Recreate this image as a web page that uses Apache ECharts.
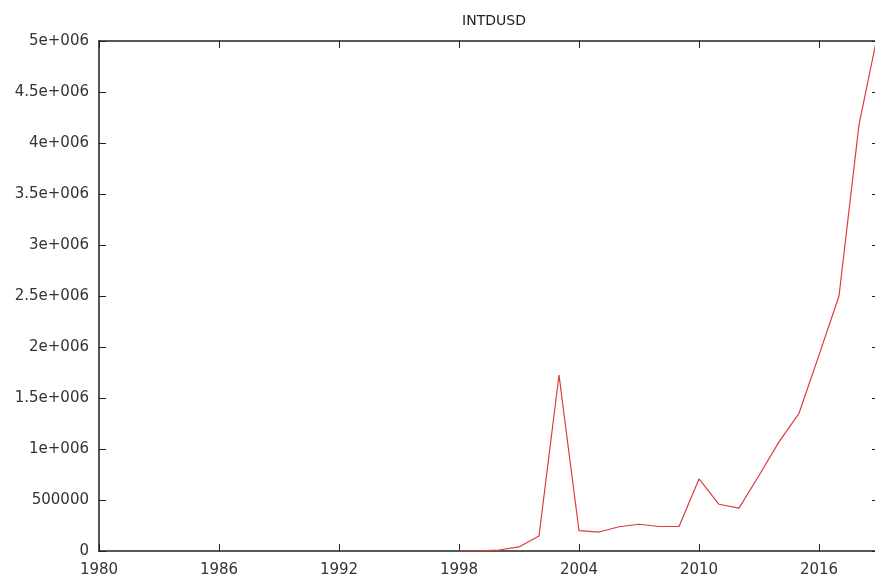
<!DOCTYPE html>
<html>
<head>
<meta charset="utf-8">
<script src="https://cdn.jsdelivr.net/npm/echarts@6/dist/echarts.min.js"></script>
<style>html,body{margin:0;padding:0;background:#fff}#c{width:875px;height:575px}</style>
</head>
<body>
<div id="c"></div>
<script>
var titleText = 'INTDUSD';
var years = [1998,1999,2000,2001,2002,2003,2004,2005,2006,2007,2008,2009,2010,2011,2012,2013,2014,2015,2016,2017,2018,2019];
var values = [0,2000,10000,40000,147000,1725000,199000,186000,238000,262000,240000,240000,706000,458000,420000,740000,1070000,1350000,1920000,2500000,4180000,5130000];
var yTickValues = [0,500000,1000000,1500000,2000000,2500000,3000000,3500000,4000000,4500000,5000000];
var yTickLabels = ['0','500000','1e+006','1.5e+006','2e+006','2.5e+006','3e+006','3.5e+006','4e+006','4.5e+006','5e+006'];
var xMin = 1980, xMax = 2019, xStep = 6;

var font = 'DejaVu Sans';
var chart = echarts.init(document.getElementById('c'), null, {renderer: 'canvas'});
var tick = {show: true, inside: true, length: 7, lineStyle: {color: '#222', width: 1}};
chart.setOption({
  animation: false,
  title: {text: titleText, left: 489, textAlign: 'center', top: 9,
    textStyle: {fontFamily: font, fontSize: 14, fontWeight: 'normal', color: '#222'}},
  grid: {left: 99, width: 780, top: 41, height: 510, containLabel: false, outerBoundsMode: 'none'},
  xAxis: [
    {type: 'value', position: 'bottom', min: xMin, max: xMax, interval: xStep,
      axisLine: {onZero: false, lineStyle: {color: '#222', width: 1.5}}, axisTick: tick,
      splitLine: {show: false},
      axisLabel: {showMaxLabel: false, margin: 12, color: '#333', fontFamily: font, fontSize: 15,
        formatter: function (v) { return String(v); }}},
    {type: 'value', position: 'top', min: xMin, max: xMax, interval: xStep,
      axisLine: {onZero: false, lineStyle: {color: '#222', width: 1.5}}, axisTick: tick,
      splitLine: {show: false}, axisLabel: {show: false}}
  ],
  yAxis: [
    {type: 'value', position: 'left', min: 0, max: 5000000, interval: 500000,
      axisLine: {show: true, onZero: false, lineStyle: {color: '#555', width: 2}}, axisTick: tick,
      splitLine: {show: false},
      axisLabel: {margin: 10, color: '#333', fontFamily: font, fontSize: 15,
        formatter: function (v) { var i = yTickValues.indexOf(v); return i >= 0 ? yTickLabels[i] : ''; }}},
    {type: 'value', position: 'right', min: 0, max: 5000000, interval: 500000,
      axisLine: {show: true, onZero: false, lineStyle: {color: '#222', width: 1}}, axisTick: tick,
      splitLine: {show: false}, axisLabel: {show: false}}
  ],
  series: [{
    type: 'line', xAxisIndex: 0, yAxisIndex: 0, clip: true,
    data: years.map(function (y, i) { return [y, values[i]]; }),
    showSymbol: false, symbol: 'none',
    lineStyle: {color: '#dc3b3e', width: 1.2}
  }]
});
</script>
</body>
</html>
